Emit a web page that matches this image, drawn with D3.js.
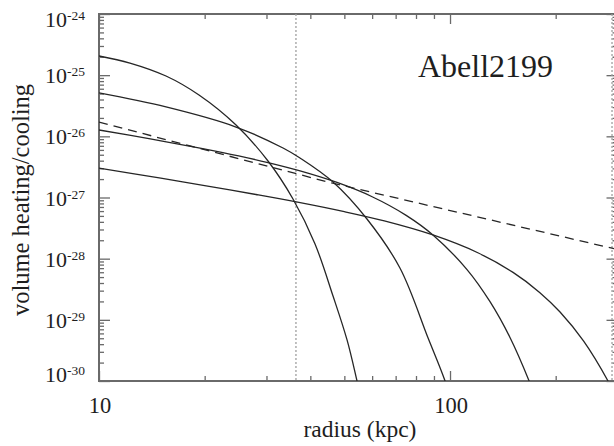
<!DOCTYPE html>
<html><head><meta charset="utf-8">
<script src="https://cdn.jsdelivr.net/npm/d3@7"></script>
<style>body{margin:0;background:#fff}svg{display:block}</style>
</head><body>
<svg id="chart" width="614" height="446"></svg>
<script>
// ---- data ----
const radiusA = [10, 12.25, 15.52, 19.27, 24.57, 30.3, 35.7, 41.25, 46.42, 50.89, 54.33, 56.89];
const heatA   = [2.06e-25, 1.58e-25, 9.69e-26, 4.74e-26, 1.53e-26, 3.95e-27, 9.46e-28, 1.74e-28, 2.45e-29, 4.69e-30, 1.0e-30, 3.1e-31];
const radiusB = [10, 15.52, 24.57, 33.44, 37.38, 46.42, 58.0, 72.0, 86.6, 96.8, 101.3];
const heatB   = [5.12e-26, 3.02e-26, 1.42e-26, 6.44e-27, 4.42e-27, 1.79e-27, 4.45e-28, 7.04e-29, 5.05e-30, 1.0e-30, 4.2e-31];
const radiusC = [10, 14, 19.4, 25, 30.3, 37.4, 47.65, 60, 75, 89.4, 111.8, 130, 148.2, 168, 176];
const heatC   = [1.27e-26, 9.08e-27, 6.41e-27, 4.78e-27, 3.72e-27, 2.72e-27, 1.76e-27, 1.03e-27, 5.11e-28, 2.44e-28, 6.64e-29, 1.98e-29, 5.14e-30, 1.0e-30, 4.9e-31];
const radiusD = [10, 15, 20, 28, 37.1, 50, 65, 89.4, 120, 151.2, 180, 205.8, 240, 281.9, 300];
const heatD   = [3.03e-27, 2.07e-27, 1.57e-27, 1.12e-27, 8.32e-28, 5.87e-28, 4.14e-28, 2.44e-28, 1.25e-28, 5.96e-29, 2.81e-29, 1.34e-29, 4.51e-30, 1.0e-30, 4.9e-31];
const radiusCool = [10, 46.0, 280, 300];
const coolRate   = [1.71e-26, 1.73e-27, 1.55e-28, 1.41e-28];
const markerRadii = [36.4, 289.4];
const xMajor = [10, 100];
const xMinor = [20, 30, 40, 50, 60, 70, 80, 90, 200, 300];
const xTickLabels = ["10", "100"];
const yExponents = [-24, -25, -26, -27, -28, -29, -30];
const title = "Abell2199";
const xTitle = "radius (kpc)";
const yTitle = "volume heating/cooling";

// ---- layout ----
const L = 99, T = 14, R = 617.5, B = 381;
const svg = d3.select("#chart");
const x = d3.scaleLog().domain([10, 300]).range([L, R]);
const y = d3.scaleLog().domain([1e-30, 1e-24]).range([B, T]);
const axisCol = "#6a6a6a", lineCol = "#262626", textCol = "#1e1e1e";
const serif = "Liberation Serif, Times New Roman, serif";

svg.append("defs").append("clipPath").attr("id", "clip")
  .append("rect").attr("x", L).attr("y", T).attr("width", R - L).attr("height", B - T);

const yMinor = [];
for (let e = -30; e < -24; e++) for (let k = 2; k <= 9; k++) yMinor.push(k * Math.pow(10, e));
const yMajor = yExponents.map(e => Math.pow(10, e));

function styleAxis(g) {
  g.select(".domain").remove();
  g.selectAll("line").attr("stroke", axisCol).attr("stroke-width", 1.3);
  g.selectAll("text").remove();
}
// bottom
svg.append("g").attr("transform", `translate(0,${B})`)
  .call(d3.axisBottom(x).tickValues(xMajor).tickSize(-10)).call(styleAxis);
svg.append("g").attr("transform", `translate(0,${B})`)
  .call(d3.axisBottom(x).tickValues(xMinor).tickSize(-5)).call(styleAxis);
// top
svg.append("g").attr("transform", `translate(0,${T})`)
  .call(d3.axisTop(x).tickValues(xMajor).tickSize(-10)).call(styleAxis);
svg.append("g").attr("transform", `translate(0,${T})`)
  .call(d3.axisTop(x).tickValues(xMinor).tickSize(-5)).call(styleAxis);
// left
svg.append("g").attr("transform", `translate(${L},0)`)
  .call(d3.axisLeft(y).tickValues(yMajor).tickSize(-11)).call(styleAxis);
svg.append("g").attr("transform", `translate(${L},0)`)
  .call(d3.axisLeft(y).tickValues(yMinor).tickSize(-5)).call(styleAxis);
// right
svg.append("g").attr("transform", `translate(${R},0)`)
  .call(d3.axisRight(y).tickValues(yMajor).tickSize(-11)).call(styleAxis);
svg.append("g").attr("transform", `translate(${R},0)`)
  .call(d3.axisRight(y).tickValues(yMinor).tickSize(-5)).call(styleAxis);

// frame
svg.append("rect").attr("x", L).attr("y", T).attr("width", R - L).attr("height", B - T)
  .attr("fill", "none").attr("stroke", axisCol).attr("stroke-width", 2);

// dotted markers
svg.append("g").selectAll("line").data(markerRadii).join("line")
  .attr("x1", d => x(d)).attr("x2", d => x(d)).attr("y1", T).attr("y2", B)
  .attr("stroke", "#a0a0a0").attr("stroke-width", 1.3).attr("stroke-dasharray", "2,2");

// curves
const line = d3.line().x(d => x(d[0])).y(d => y(d[1])).curve(d3.curveCatmullRom.alpha(0.5));
const plot = svg.append("g").attr("clip-path", "url(#clip)");
const solid = [[radiusA, heatA], [radiusB, heatB], [radiusC, heatC], [radiusD, heatD]];
solid.forEach(([r, v]) => {
  plot.append("path").datum(r.map((d, i) => [d, v[i]])).attr("d", line)
    .attr("fill", "none").attr("stroke", lineCol).attr("stroke-width", 1.3);
});
plot.append("path").datum(radiusCool.map((d, i) => [d, coolRate[i]]))
  .attr("d", d3.line().x(d => x(d[0])).y(d => y(d[1])))
  .attr("fill", "none").attr("stroke", lineCol).attr("stroke-width", 1.3)
  .attr("stroke-dasharray", "9,6");

// y tick labels
yExponents.forEach((e, i) => {
  let base = y(Math.pow(10, e)) + 8;
  if (i === 0) base = T + 13;
  if (i === yExponents.length - 1) base = B + 1;
  const t = svg.append("text").attr("x", L - 14).attr("y", base).attr("text-anchor", "end")
    .attr("font-family", serif).attr("font-size", 22).attr("fill", textCol);
  t.append("tspan").text("10");
  t.append("tspan").attr("dy", -7).attr("font-size", 13.5).text(String(e));
});
// x tick labels
svg.append("g").selectAll("text").data(xMajor).join("text")
  .attr("x", d => x(d) + 1).attr("y", 413).attr("text-anchor", "middle")
  .attr("font-family", serif).attr("font-size", 22.5).attr("fill", textCol)
  .text((d, i) => xTickLabels[i]);

// titles
svg.append("text").attr("x", 360).attr("y", 437).attr("text-anchor", "middle")
  .attr("font-family", serif).attr("font-size", 23.5).attr("fill", textCol).text(xTitle);
svg.append("text").attr("transform", "translate(29,200) rotate(-90)").attr("text-anchor", "middle")
  .attr("font-family", serif).attr("font-size", 24.5).attr("fill", textCol).text(yTitle);
svg.append("text").attr("x", 418).attr("y", 77)
  .attr("font-family", serif).attr("font-size", 32).attr("fill", textCol).text(title);
</script>
</body></html>
